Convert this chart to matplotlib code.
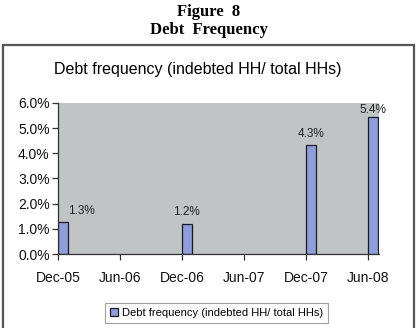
import datetime as dt

import matplotlib
matplotlib.use('Agg')
import matplotlib.pyplot as plt
import matplotlib.dates as mdates
from matplotlib.patches import Rectangle
from matplotlib.ticker import FuncFormatter

# data
periods = [dt.date(2005, 12, 1), dt.date(2006, 12, 1),
           dt.date(2007, 12, 1), dt.date(2008, 6, 1)]
debt_freq = [0.0126, 0.0120, 0.0432, 0.0543]
series_name = 'Debt frequency (indebted HH/ total HHs)'
tick_dates = [dt.date(2005, 12, 1), dt.date(2006, 6, 1), dt.date(2006, 12, 1),
              dt.date(2007, 6, 1), dt.date(2007, 12, 1), dt.date(2008, 6, 1)]

plt.rcParams['font.family'] = ['Liberation Sans', 'DejaVu Sans']

fig = plt.figure(figsize=(4.17, 3.28), dpi=100)

# page heading above the chart box
fig.text(0.5, 0.963, 'Figure  8', ha='center', va='center', fontsize=12,
         fontweight='bold', family='Liberation Serif')
fig.text(0.5, 0.909, 'Debt  Frequency', ha='center', va='center', fontsize=12,
         fontweight='bold', family='Liberation Serif')

# chart box
fig.patches.append(Rectangle((2.5 / 417, -0.02), 411 / 417, 0.883,
                             transform=fig.transFigure, fill=False,
                             edgecolor='#555555', linewidth=1.6))

fig.text(0.475, 0.787, series_name, ha='center', va='center', fontsize=11.5)

ax = fig.add_axes([0.139, 0.2256, 0.770, 0.4604])
ax.set_facecolor('#c0c4c4')

bars = ax.bar(periods, debt_freq, width=29, align='edge', color='#8f9ed8',
              edgecolor='#1a1a2a', linewidth=0.9, label=series_name)

for i, (bar, val) in enumerate(zip(bars, debt_freq)):
    dx = 13 if i == 0 else 0
    dy = 1 if val > 0.05 else 4
    ax.annotate(f'{val * 100:.1f}%',
                (bar.get_x() + bar.get_width() / 2, bar.get_height()),
                xytext=(dx, dy), textcoords='offset points',
                ha='center', va='bottom', fontsize=8.5, color='#222222')

ax.set_xlim(dt.date(2005, 12, 1), dt.date(2008, 7, 3))
ax.set_ylim(0, 0.06)
ax.set_yticks([0, 0.01, 0.02, 0.03, 0.04, 0.05, 0.06])
ax.yaxis.set_major_formatter(FuncFormatter(lambda v, p: f'{v * 100:.1f}%'))
ax.set_xticks(tick_dates)
ax.xaxis.set_major_formatter(mdates.DateFormatter('%b-%y'))

for side in ['top', 'right']:
    ax.spines[side].set_visible(False)
for side in ['left', 'bottom']:
    ax.spines[side].set_color('#333333')
    ax.spines[side].set_linewidth(0.9)

ax.tick_params(axis='both', direction='out', length=4, width=0.9,
               color='#333333', labelsize=10, labelcolor='#111111')
ax.tick_params(axis='x', pad=8)
ax.tick_params(axis='y', pad=2)

leg = fig.legend(loc='center', bbox_to_anchor=(0.519, 0.0457), fontsize=8,
                 frameon=True, fancybox=False, edgecolor='#888888',
                 handlelength=0.7, handleheight=0.7, handletextpad=0.4,
                 borderpad=0.45)
leg.get_frame().set_linewidth(0.8)

fig.savefig('out.png', dpi=100)
